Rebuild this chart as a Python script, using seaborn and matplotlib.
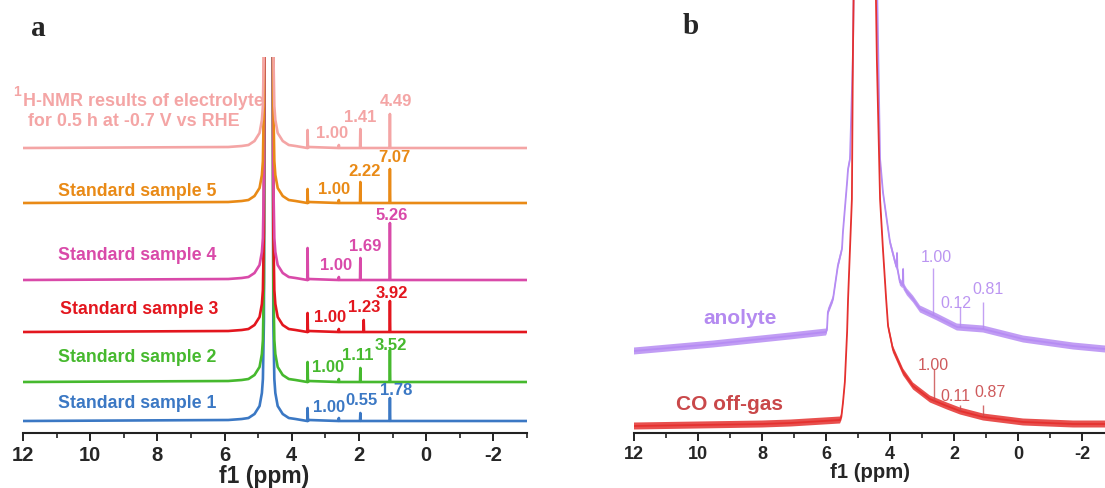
import numpy as np
import pandas as pd
import matplotlib
matplotlib.use("Agg")
import matplotlib.pyplot as plt
import seaborn as sns
from matplotlib.ticker import MultipleLocator

sns.set_theme(style="white")
plt.rcParams["font.family"] = ["Liberation Sans", "DejaVu Sans"]
plt.rcParams["axes.unicode_minus"] = False

# ---------------- panel a: calibration standards and electrolyte ----------------
A_SERIES = ["Standard sample 1", "Standard sample 2", "Standard sample 3",
            "Standard sample 4", "Standard sample 5", "electrolyte"]
A_COLORS = ["#3b78c4", "#46b92e", "#e3161e", "#d94aa9", "#e98a16", "#f4a5a5"]
A_OFFSETS = [12, 51, 101, 153, 230, 285]          # stacking offset of each trace

# residual water line (offset from centre in ppm, height above baseline)
WATER_CENTER = 4.69
WATER_D = [-1.2, -0.8, -0.6, -0.42, -0.27, -0.2, -0.17, -0.14, -0.12, 0.0,
           0.12, 0.14, 0.17, 0.2, 0.27, 0.42, 0.6, 0.8, 1.2]
WATER_H = [1, 2, 3, 7, 15, 28, 42, 100, 400, 3000,
           400, 100, 42, 28, 15, 7, 3, 2, 1]

# product lines in each trace
A_PEAK_PPM = [[3.53, 2.60, 1.96, 1.08],
              [3.53, 2.60, 1.96, 1.08],
              [3.53, 2.60, 1.86, 1.08],
              [3.53, 2.60, 1.96, 1.08],
              [3.53, 2.60, 1.96, 1.08],
              [3.53, 2.60, 1.96, 1.08]]
A_PEAK_H = [[13, 3, 8, 23],
            [20, 3, 14, 32],
            [19, 3, 12, 31],
            [32, 3, 22, 57],
            [14, 3, 21, 34],
            [18, 3, 19, 34]]
A_INTEGRALS = [["1.00", "0.55", "1.78"],
               ["1.00", "1.11", "3.52"],
               ["1.00", "1.23", "3.92"],
               ["1.00", "1.69", "5.26"],
               ["1.00", "2.22", "7.07"],
               ["1.00", "1.41", "4.49"]]

# ---------------- panel b: anolyte and CO off-gas ----------------
B_SERIES = ["anolyte", "CO off-gas"]
B_COLORS = ["#b68cf3", "#e5312f"]
B_TEXT_COLORS = ["#b48af0", "#c9484a"]
ANOLYTE_PPM = [12.0, 9.53, 7.13, 6.0, 5.97, 5.94, 5.78, 5.63, 5.5, 5.47, 5.34,
               5.31, 5.25, 5.19, 5.16, 5.12, 4.8, 4.42, 4.31, 4.22, 4.09, 4.0,
               3.84, 3.79, 3.78, 3.77, 3.69, 3.60, 3.59, 3.58, 3.47, 3.28, 3.06,
               2.53, 1.91, 1.09, -0.16, -1.72, -2.72]
ANOLYTE_INT = [82, 89, 97, 101, 103, 121, 134, 167, 184, 201, 251,
               264, 274, 341, 374, 480, 1500, 480, 274, 241, 211, 191,
               171, 166, 180, 165, 151, 148, 164, 147, 141, 134, 124,
               116, 106, 104, 94, 87, 84]
COGAS_PPM = [12.0, 10.0, 8.0, 7.1, 5.56, 5.52, 5.47, 5.41, 5.34, 5.31, 5.19,
             5.16, 5.12, 4.8, 4.46, 4.41, 4.31, 4.22, 4.12, 4.06, 3.91, 3.59,
             3.28, 2.75, 2.22, 1.81, 1.09, -0.16, -1.72, -2.72]
COGAS_INT = [7, 8, 9, 10, 13, 16, 30, 51, 101, 134, 234,
             374, 480, 1500, 480, 374, 234, 184, 134, 107, 84, 61,
             47, 34, 27, 22, 16, 11, 9, 9]
B_PEAK_PPM = [[2.64, 1.81, 1.09], [2.63, 1.81, 1.08]]
B_PEAK_H = [[47, 20, 27], [32, 6, 12]]
B_INTEGRALS = [["1.00", "0.12", "0.81"], ["1.00", "0.11", "0.87"]]

# ---------------- layout of annotations (ppm, height above baseline) ----------------
A_INT_POS = [[(2.88, 14), (1.92, 21), (0.89, 31)],
             [(2.93, 16), (2.04, 27), (1.06, 37)],
             [(2.85, 15), (1.86, 25), (1.01, 40)],
             [(2.69, 16), (1.83, 34), (1.04, 65)],
             [(2.75, 14), (1.83, 32), (0.94, 46)],
             [(2.81, 15), (1.96, 32), (0.91, 47)]]
A_LABEL_POS = [(10.95, 18), (10.95, 25), (10.90, 24), (10.95, 25), (10.95, 13)]
B_INT_POS = [[(2.56, 177), (1.94, 131), (0.94, 144)],
             [(2.66, 69), (1.97, 37), (0.875, 41)]]
B_LABEL_POS = [(8.68, 116), (9.0, 29)]

STICK_HW = 0.010


def trace_points(offset, peaks_ppm, peaks_h):
    pts = [(12.0, offset), (-3.0, offset)]
    for d, h in zip(WATER_D, WATER_H):
        pts.append((WATER_CENTER + d, offset + h))
    for p, h in zip(peaks_ppm, peaks_h):
        pts += [(p + STICK_HW, offset), (p, offset + h), (p - STICK_HW, offset)]
    pts.sort(key=lambda t: -t[0])
    return pts


rows = []
for name, off, pp, ph in zip(A_SERIES, A_OFFSETS, A_PEAK_PPM, A_PEAK_H):
    for x, y in trace_points(off, pp, ph):
        rows.append({"series": name, "ppm": x, "intensity": y})
df_a = pd.DataFrame(rows)

df_b = pd.concat([
    pd.DataFrame({"series": B_SERIES[0], "ppm": ANOLYTE_PPM, "intensity": ANOLYTE_INT}),
    pd.DataFrame({"series": B_SERIES[1], "ppm": COGAS_PPM, "intensity": COGAS_INT}),
], ignore_index=True)

W, H = 1105, 489
fig = plt.figure(figsize=(W / 100, H / 100), dpi=100)
ax_a = fig.add_axes([23 / W, 55 / H, 504 / W, 376 / H])
ax_b = fig.add_axes([634 / W, 55 / H, 471 / W, 434 / H])

sns.lineplot(data=df_a, x="ppm", y="intensity", hue="series", hue_order=A_SERIES,
             palette=dict(zip(A_SERIES, A_COLORS)), estimator=None, sort=False,
             legend=False, linewidth=1.9, ax=ax_a)

# noisy traces: a thin band around each trace, then the trace itself
for (name, col) in zip(B_SERIES, B_COLORS):
    sub = df_b[df_b["series"] == name]
    ax_b.fill_between(sub["ppm"], sub["intensity"] - 3.5, sub["intensity"] + 3.5,
                      color=col, alpha=0.85, linewidth=0)
sns.lineplot(data=df_b, x="ppm", y="intensity", hue="series", hue_order=B_SERIES,
             palette=dict(zip(B_SERIES, B_COLORS)), estimator=None, sort=False,
             legend=False, linewidth=1.3, ax=ax_b)

# integration markers in panel b
for k, name in enumerate(B_SERIES):
    sub = df_b[df_b["series"] == name]
    xs = sub["ppm"].to_numpy()[::-1]
    ys = sub["intensity"].to_numpy()[::-1]
    for p, h in zip(B_PEAK_PPM[k], B_PEAK_H[k]):
        base = np.interp(p, xs, ys)
        ax_b.vlines(p, base, base + h, color=B_TEXT_COLORS[k], linewidth=1.0, alpha=0.8)

# text in panel a
for k, name in enumerate(A_SERIES):
    col = A_COLORS[k]
    off = A_OFFSETS[k]
    for txt, (px, dy) in zip(A_INTEGRALS[k], A_INT_POS[k]):
        ax_a.text(px, off + dy, txt, color=col, fontsize=12, fontweight="bold",
                  ha="center", va="center")
    if k < 5:
        lx, ly = A_LABEL_POS[k]
        ax_a.text(lx, off + ly, name, color=col, fontsize=12.8, fontweight="bold",
                  ha="left", va="center")

pink = A_COLORS[5]
off_e = A_OFFSETS[5]
ax_a.text(12.3, off_e + 57, "1", color=pink, fontsize=10, fontweight="bold",
          ha="left", va="center")
ax_a.text(12.0, off_e + 47, "H-NMR results of electrolyte", color=pink,
          fontsize=12.9, fontweight="bold", ha="left", va="center")
ax_a.text(11.86, off_e + 27, "for 0.5 h at -0.7 V vs RHE", color=pink,
          fontsize=12.9, fontweight="bold", ha="left", va="center")

# text in panel b
for k, name in enumerate(B_SERIES):
    for txt, (px, py) in zip(B_INTEGRALS[k], B_INT_POS[k]):
        ax_b.text(px, py, txt, color=B_TEXT_COLORS[k], fontsize=11.5,
                  ha="center", va="center", alpha=0.9)
    lx, ly = B_LABEL_POS[k]
    ax_b.text(lx, ly, name, color=B_TEXT_COLORS[k], fontsize=15, fontweight="bold",
              ha="center", va="center")

for ax, xmax, ytop, tick_fs, lab_fs in [(ax_a, -3.0, 376, 14.5, 16.5),
                                        (ax_b, -2.72, 434, 13, 14.6)]:
    ax.set_xlim(12, xmax)
    ax.set_ylim(0, ytop)
    ax.set_facecolor("none")
    for s in ["left", "right", "top"]:
        ax.spines[s].set_visible(False)
    ax.spines["bottom"].set_color("#222222")
    ax.spines["bottom"].set_linewidth(1.5)
    ax.set_yticks([])
    ax.set_ylabel("")
    ax.xaxis.set_major_locator(MultipleLocator(2))
    ax.xaxis.set_minor_locator(MultipleLocator(1))
    ax.tick_params(axis="x", which="major", direction="out", length=6, width=1.4,
                   color="#222222", labelsize=tick_fs, pad=2.5, bottom=True)
    ax.tick_params(axis="x", which="minor", direction="out", length=3.5, width=1.2,
                   color="#222222", bottom=True)
    for lbl in ax.get_xticklabels():
        lbl.set_fontweight("bold")
    ax.set_xlabel("f1 (ppm)", fontsize=lab_fs, fontweight="bold", labelpad=0)

ax_a.xaxis.label.set_x(0.478)

fig.text(38 / W, 1 - 28 / H, "a", family="Liberation Serif", fontweight="bold",
         fontsize=21, ha="center", va="center")
fig.text(691 / W, 1 - 26 / H, "b", family="Liberation Serif", fontweight="bold",
         fontsize=21, ha="center", va="center")

fig.savefig("out.png", dpi=100, facecolor="white")
